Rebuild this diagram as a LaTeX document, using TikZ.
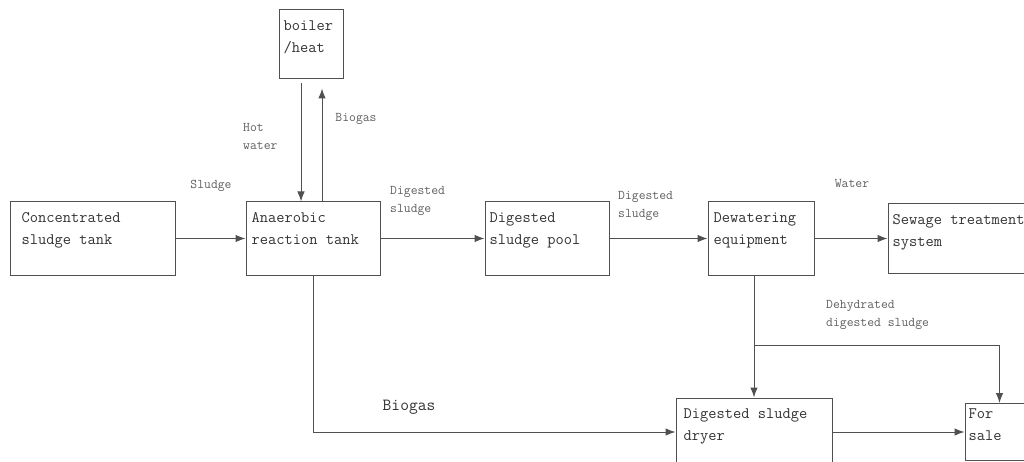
\documentclass[tikz,border=0pt]{standalone}
\usepackage{tikz}
\usetikzlibrary{positioning,arrows.meta,calc}
\definecolor{LineGray}{RGB}{80,80,80}
\definecolor{TextGray}{RGB}{50,50,50}
\definecolor{LabelGray}{RGB}{95,95,95}

\begin{document}
\begin{tikzpicture}[x=1pt, y=-1pt,
    every node/.style={align=left},
    stage/.style={draw=LineGray, line width=1pt, minimum width=#1,
                  minimum height=73pt, inner sep=0pt},
    stagetext/.style={anchor=north west, inner sep=0pt, xshift=6pt, yshift=-11pt,
                      font=\fontsize{16}{22}\selectfont\ttfamily, text=TextGray},
    flow/.style={font=\fontsize{13.3}{18}\selectfont\ttfamily, text=LabelGray, inner sep=0pt},
    arr/.style={-{Latex[length=10pt,width=7.5pt]}, draw=LineGray, line width=1pt}
  ]
    \useasboundingbox (0,0) rectangle (1024,462);
    \clip (0,0) rectangle (1024,462);

    % main line
    \node[stage=165pt, label={[stagetext, xshift=6pt]north west:{Concentrated\\sludge tank}}] (cst) at (92.5,238.5) {};
    \node[stage=134pt, right=70pt of cst, label={[stagetext]north west:{Anaerobic\\reaction tank}}] (art) {};
    \node[stage=124pt, right=104pt of art, label={[stagetext, xshift=-1pt]north west:{Digested\\sludge pool}}] (pool) {};
    \node[stage=106pt, right=98pt of pool, label={[stagetext]north west:{Dewatering\\equipment}}] (dew) {};
    \node[stage=160pt, minimum height=70pt, right=73pt of dew, label={[stagetext, xshift=-1pt]north west:{Sewage treatment\\system}}] (sew) {};

    % boiler and dryer branch
    \node[stage=64pt, minimum height=69pt, above=122pt of art, xshift=-2pt, label={[stagetext, xshift=-1pt]north west:{boiler\\/heat}}] (boil) {};
    \node[stage=156pt, minimum height=68pt, below=122pt of dew, xshift=-7pt, label={[stagetext, xshift=2pt]north west:{Digested sludge\\dryer}}] (dry) {};
    \node[stage=69pt, minimum height=57pt, right=132pt of dry, label={[stagetext, xshift=-2pt, yshift=5pt]north west:{For\\sale}}] (sale) {};

    % flow labels
    \node[flow] (lsludge) at (211,186) {Sludge};
    \node[flow, anchor=west] (lhot) at (243,136) {Hot\\water};
    \node[flow] (lgasup) at (356,119) {Biogas};
    \node[flow, anchor=west] (ldig1) at (390,201) {Digested\\sludge};
    \node[flow, anchor=west] (ldig2) at (618,206) {Digested\\sludge};
    \node[flow] (lwater) at (852,183) {Water};
    \node[flow, anchor=west] (ldeh) at (826,315) {Dehydrated\\digested sludge};
    \node[flow, font=\fontsize{17}{20}\selectfont\ttfamily, text=TextGray] (lgasdry) at (409,407) {Biogas};

    \draw[arr] (cst.east) -- (art.west);
    \draw[arr, shorten <=4pt] ([xshift=-10pt]boil.south) -- ([xshift=-10pt]boil.south |- art.north);
    \draw[arr, shorten >=9pt] ([xshift=9pt]art.north) -- ([xshift=9pt]art.north |- boil.south);
    \draw[arr] (art.east) -- (pool.west);
    \draw[arr] (pool.east) -- (dew.west);
    \draw[arr] (dew.east) -- (sew.west);
    \draw[arr] (art.south) |- (dry.west);
    \draw[arr] (dry.north |- dew.south) -- (dry.north);
    \path (dry.north) ++(0,-52) coordinate (jn);
    \draw[arr] (jn) -| (sale.north);
    \draw[arr] (dry.east) -- (sale.west);
\end{tikzpicture}
\end{document}
